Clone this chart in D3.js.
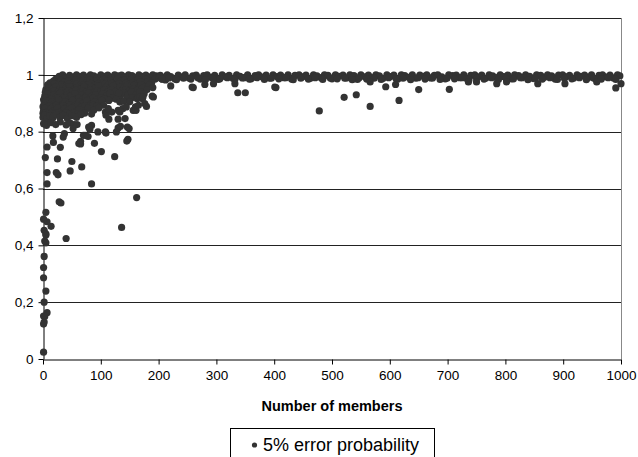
<!DOCTYPE html>
<html>
<head>
<meta charset="utf-8">
<script src="https://cdn.jsdelivr.net/npm/d3@7/dist/d3.min.js"></script>
<style>
  body { margin: 0; background: #fff; }
  svg { display: block; font-family: "Liberation Sans", Arial, sans-serif; }
</style>
</head>
<body>
<svg id="chart"></svg>
<script>
// members vs probability
// dense cluster, small groups (0-200 members)
const clusterPoints = [
  [22,0.985],[28,0.995],[34,1.0],[40,0.99],[46,0.998],[52,0.992],[58,1.0],[64,0.994],[70,0.999],[76,0.99],
  [82,1.0],[88,0.996],[94,0.99],[100,1.0],[106,0.995],[112,0.999],[118,0.991],[124,1.0],[130,0.996],[136,0.999],
  [142,0.993],[148,1.0],[154,0.997],[160,0.99],[166,1.0],[172,0.995],[178,0.999],[184,0.992],[190,1.0],[196,0.996],
  [12,0.972],[18,0.978],[25,0.968],[31,0.981],[37,0.974],[44,0.979],[50,0.97],[57,0.982],[63,0.975],[69,0.98],
  [75,0.971],[81,0.983],[87,0.976],[93,0.98],[99,0.973],[105,0.984],[111,0.977],[117,0.981],[123,0.972],[129,0.985],
  [135,0.978],[141,0.982],[147,0.974],[153,0.984],[159,0.977],[165,0.983],[171,0.975],[178,0.984],[186,0.979],[194,0.985],
  [8,0.965],[14,0.962],[20,0.968],[27,0.963],[33,0.966],[39,0.961],[45,0.967],[51,0.963],[58,0.968],[64,0.962],
  [70,0.966],[76,0.963],[83,0.969],[89,0.964],[95,0.967],[101,0.962],[107,0.968],[113,0.965],[119,0.97],[125,0.964],
  [131,0.968],[138,0.966],[144,0.97],[150,0.967],[156,0.972],[162,0.968],[168,0.975],[174,0.97],[181,0.976],[188,0.972],
  [200,0.99],[206,0.985],[212,0.982],
  [5,0.948],[10,0.955],[16,0.95],[22,0.958],[28,0.947],[34,0.956],[40,0.951],[46,0.959],[53,0.946],[59,0.955],
  [65,0.95],[71,0.958],[78,0.945],[84,0.956],[90,0.952],[96,0.96],[103,0.947],[109,0.955],[115,0.95],[121,0.962],
  [127,0.944],[133,0.957],[139,0.951],[145,0.96],[152,0.948],[158,0.963],[164,0.952],[170,0.966],[177,0.958],[184,0.964],
  [4,0.938],[9,0.942],[14,0.936],[20,0.944],[26,0.938],[32,0.943],[38,0.937],[44,0.944],[50,0.939],[57,0.945],
  [63,0.937],[69,0.943],[75,0.939],[82,0.945],[88,0.938],[94,0.944],[100,0.939],[106,0.946],[112,0.94],[118,0.946],
  [125,0.94],[137,0.944],[143,0.948],[149,0.942],[156,0.95],[163,0.945],[172,0.952],[180,0.948],[190,0.955],
  [3,0.925],[8,0.932],[13,0.92],[19,0.93],[24,0.924],[30,0.935],[36,0.921],[42,0.93],[48,0.926],[55,0.934],
  [61,0.92],[67,0.929],[73,0.922],[79,0.935],[85,0.925],[91,0.93],[98,0.921],[104,0.933],[110,0.926],[116,0.935],
  [122,0.92],[128,0.932],[134,0.926],[140,0.936],[147,0.93],[153,0.94],[160,0.93],[168,0.94],[175,0.933],
  [1,0.912],[5,0.918],[10,0.91],[15,0.916],[21,0.912],[26,0.918],[32,0.911],[38,0.918],[44,0.912],[50,0.919],
  [56,0.911],[62,0.917],[68,0.912],[74,0.918],[80,0.912],[87,0.918],[93,0.913],[100,0.92],[107,0.915],[120,0.918],
  [127,0.914],[145,0.918],[155,0.92],
  [2,0.9],[6,0.908],[11,0.897],[16,0.905],[21,0.899],[27,0.91],[33,0.896],[39,0.906],[45,0.9],[51,0.91],
  [57,0.895],[63,0.904],[69,0.898],[76,0.909],[83,0.896],[89,0.905],[96,0.9],[102,0.91],[114,0.91],[133,0.904],
  [140,0.907],[150,0.905],
  [0,0.888],[3,0.892],[7,0.886],[12,0.892],[17,0.887],[23,0.893],[29,0.887],[35,0.892],[41,0.886],[47,0.893],
  [54,0.887],[60,0.892],[66,0.886],[73,0.891],[80,0.888],[86,0.893],[93,0.889],[105,0.893],
  [1,0.875],[4,0.882],[9,0.87],[14,0.88],[19,0.873],[25,0.884],[31,0.871],[37,0.879],[43,0.874],[50,0.883],
  [56,0.87],[62,0.878],[70,0.872],[78,0.882],[88,0.876],[97,0.884],
  [0,0.865],[2,0.862],[5,0.866],[10,0.862],[15,0.866],[21,0.863],[27,0.867],[33,0.862],[40,0.866],[46,0.862],
  [53,0.866],[60,0.863],[72,0.865],[84,0.862],
  [0,0.85],[3,0.858],[7,0.846],[12,0.855],[17,0.848],[23,0.86],[29,0.85],[35,0.857],[42,0.846],[50,0.856],
  [58,0.85],[66,0.86],
  [1,0.828],[6,0.822],[14,0.832],[22,0.825],[30,0.834],[40,0.824],[47,0.83]
];

// scattered points below the cluster
const scatterPoints = [
  [17,0.785],[37,0.793],[54,0.825],[70,0.787],[84,0.822],[81,0.808],[95,0.799],[108,0.799],[114,0.844],[130,0.813],
  [119,0.869],[108,0.869],[133,0.869],[142,0.846],[146,0.816],[147,0.773],[131,0.936],[163,0.916],[138,0.881],[134,0.819],
  [149,0.811],[156,0.875],[160,0.887],[165,0.92],[168,0.922],[176,0.899],[189,0.925],[172,0.916],[65,0.766],[78,0.783],
  [18,0.762],[7,0.746],[30,0.745],[65,0.757],[89,0.759],[101,0.73],[124,0.712],[145,0.767],[4,0.709],[25,0.704],
  [50,0.695],[67,0.676],[47,0.662],[7,0.656],[23,0.656],[26,0.648],[7,0.616],[84,0.616],[162,0.568],[28,0.553],
  [31,0.549],[40,0.424],[136,0.463],[14,0.467],[7,0.483],[5,0.516],[1,0.492],[2,0.453],[5,0.44],[5,0.436],
  [3,0.415],[5,0.409],[2,0.361],[1,0.322],[1,0.286],[5,0.239],[2,0.2],[7,0.163],[3,0.15],[1,0.151],
  [2,0.13],[1,0.123],[1,0.024],
  [127,0.799],[109,0.795],[73,0.787],[62,0.758],[35,0.781],[52,0.811],[59,0.825],[79,0.816],[130,0.844],[130,0.875],
  [109,0.858],[113,0.881],[144,0.887],[161,0.875],[165,0.893],[179,0.889],[191,0.922],[173,0.922]
];

// large groups (200-1000 members)
const bandPoints = [
  [203,0.998],[209,0.99],[215,1.0],[221,0.994],[228,0.986],[234,0.999],[240,0.992],[246,1.0],[253,0.988],[259,0.996],
  [265,0.999],[272,0.985],[278,0.997],[284,1.0],[291,0.991],[297,0.998],[303,0.984],[310,1.0],[316,0.993],[322,0.998],
  [329,0.987],[335,1.0],[341,0.995],[348,0.99],[354,1.0],[360,0.986],[367,0.997],[373,1.0],[379,0.992],[386,0.999],
  [392,0.988],[398,1.0],[405,0.994],[411,0.999],[417,0.99],[424,1.0],[430,0.985],[436,0.998],[443,1.0],[449,0.993],
  [455,0.999],[462,0.987],[468,1.0],[474,0.996],[481,0.99],[487,1.0],[493,0.998],[500,0.986],[506,1.0],[512,0.995],
  [519,0.999],[525,0.989],[531,1.0],[538,0.997],[544,0.984],[550,1.0],[557,0.993],[563,0.999],[569,0.99],[576,1.0],
  [582,0.996],[588,0.987],[595,1.0],[601,0.994],[607,0.999],[614,0.985],[620,1.0],[626,0.997],[633,0.991],[639,1.0],
  [645,0.988],[652,0.999],[658,0.995],[664,1.0],[671,0.989],[677,0.998],[683,1.0],[690,0.993],[696,0.986],[702,1.0],
  [709,0.997],[715,0.999],[721,0.99],[728,1.0],[734,0.985],[740,0.998],[747,1.0],[753,0.992],[759,0.999],[766,0.988],
  [772,1.0],[778,0.996],[785,0.99],[791,1.0],[797,0.994],[804,0.999],[810,0.986],[816,1.0],[823,0.997],[829,0.99],
  [835,1.0],[842,0.995],[848,0.987],[854,1.0],[861,0.998],[867,0.991],[873,1.0],[880,0.996],[886,0.985],[892,0.999],
  [899,1.0],[905,0.993],[911,0.998],[918,0.988],[924,1.0],[930,0.995],[937,0.999],[943,0.99],[949,1.0],[956,0.986],
  [962,0.998],[968,1.0],[975,0.992],[981,0.999],[987,0.989],[994,1.0],[998,0.996],
  [206,0.985],[218,0.989],[231,0.983],[243,0.988],[256,0.985],[268,0.99],[281,0.983],[294,0.988],[306,0.986],[319,0.99],
  [332,0.984],[345,0.989],[357,0.985],[370,0.99],[383,0.984],[395,0.988],[408,0.986],[420,0.99],[433,0.983],[446,0.988],
  [459,0.985],[471,0.99],[484,0.984],[497,0.989],[509,0.986],[522,0.988],[535,0.983],[547,0.99],[560,0.985],[573,0.988],
  [585,0.984],[598,0.99],[611,0.986],[623,0.988],[636,0.983],[649,0.99],[661,0.985],[674,0.989],[687,0.984],[699,0.988],
  [712,0.986],[725,0.99],[737,0.983],[750,0.988],[763,0.985],[776,0.99],[788,0.984],[801,0.988],[814,0.986],[826,0.99],
  [839,0.983],[852,0.988],[864,0.985],[877,0.99],[890,0.984],[902,0.988],[915,0.986],[928,0.99],[940,0.983],[953,0.988],
  [966,0.985],[978,0.99],[991,0.984]
];

// dips below the band
const dipPoints = [
  [221,0.961],[258,0.957],[260,0.955],[280,0.966],[295,0.969],[332,0.969],[337,0.937],[350,0.937],[401,0.957],[403,0.955],
  [478,0.873],[521,0.921],[542,0.93],[566,0.889],[566,0.975],[593,0.958],[610,0.966],[616,0.91],[650,0.948],[703,0.949],
  [736,0.975],[750,0.975],[785,0.969],[802,0.975],[856,0.969],[903,0.969],[958,0.975],[991,0.954],[1000,0.969]
];

const xTicks = [0, 100, 200, 300, 400, 500, 600, 700, 800, 900, 1000];
const yTicks = [0, 0.2, 0.4, 0.6, 0.8, 1, 1.2];
const seriesName = '5% error probability';
const xTitle = 'Number of members';

const width = 638, height = 457;
const margin = { top: 18, right: 17, bottom: 98, left: 43 };

const svg = d3.select('#chart').attr('width', width).attr('height', height);

const x = d3.scaleLinear().domain([0, 1000]).range([margin.left, width - margin.right]);
const y = d3.scaleLinear().domain([0, 1.2]).range([height - margin.bottom, margin.top]);

const fmt = d => d3.format('.1~f')(d).replace('.', ',');

// grid lines
svg.append('g')
  .selectAll('line').data(yTicks.filter(d => d > 0))
  .enter().append('line')
    .attr('x1', x(0)).attr('x2', x(1000))
    .attr('y1', d => Math.round(y(d)) + 0.5).attr('y2', d => Math.round(y(d)) + 0.5)
    .attr('stroke', '#222').attr('stroke-width', 1);

// right border
svg.append('line')
  .attr('x1', Math.round(x(1000)) + 0.5).attr('x2', Math.round(x(1000)) + 0.5)
  .attr('y1', y(1.2)).attr('y2', y(0))
  .attr('stroke', '#888');

const xAxis = svg.append('g')
  .attr('transform', `translate(0,${Math.round(y(0)) + 0.5})`)
  .call(d3.axisBottom(x).tickValues(xTicks).tickFormat(d3.format('d'))
    .tickSize(5).tickSizeOuter(0).tickPadding(6));

const yAxis = svg.append('g')
  .attr('transform', `translate(${Math.round(x(0)) + 0.5},0)`)
  .call(d3.axisLeft(y).tickValues(yTicks).tickFormat(fmt).tickSize(5).tickSizeOuter(0).tickPadding(5));

[xAxis, yAxis].forEach(a => {
  a.selectAll('path, line').attr('stroke', '#000');
  a.selectAll('text').attr('fill', '#000').attr('font-size', '13.5px')
    .attr('font-family', '"Liberation Sans", Arial, sans-serif');
});

// points
const allPoints = clusterPoints.concat(scatterPoints, bandPoints, dipPoints);
svg.append('g')
  .selectAll('circle').data(allPoints)
  .enter().append('circle')
    .attr('cx', d => x(d[0]))
    .attr('cy', d => y(d[1]))
    .attr('r', 3.6)
    .attr('fill', '#333');

// axis title
svg.append('text')
  .attr('x', (x(0) + x(1000)) / 2)
  .attr('y', 411)
  .attr('text-anchor', 'middle')
  .attr('font-weight', 'bold')
  .attr('font-size', '14.5px')
  .text(xTitle);

// legend
const legend = svg.append('g');
legend.append('rect')
  .attr('x', 230.5).attr('y', 428.5)
  .attr('width', 204).attr('height', 40)
  .attr('fill', '#fff').attr('stroke', '#000');
legend.append('circle')
  .attr('cx', 254.5).attr('cy', 445)
  .attr('r', 2.6).attr('fill', '#333');
legend.append('text')
  .attr('x', 263).attr('y', 451)
  .attr('font-size', '18px')
  .text(seriesName);
</script>
</body>
</html>
